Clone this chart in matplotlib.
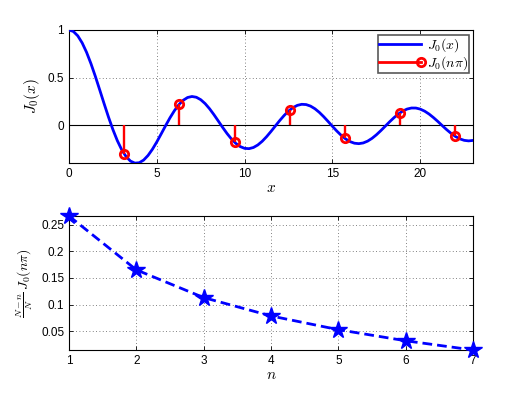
import numpy as np
import matplotlib
matplotlib.use("Agg")
import matplotlib.pyplot as plt
from matplotlib.lines import Line2D
from matplotlib.legend_handler import HandlerBase

plt.rcParams['font.family'] = ['Liberation Sans', 'DejaVu Sans']
plt.rcParams['mathtext.fontset'] = 'cm'

# J0(x), step 0.25 from 0 to 23
x_vals = np.arange(0, 23.001, 0.25)
j0_vals = [1.0, 0.9844, 0.9385, 0.8642, 0.7652, 0.6459, 0.5118, 0.3690,
           0.2239, 0.0827, -0.0484, -0.1641, -0.2601, -0.3326, -0.3801, -0.4012,
           -0.3971, -0.3691, -0.3205, -0.2551, -0.1776, -0.0931, -0.0068, 0.0760,
           0.1506, 0.2131, 0.2601, 0.2894, 0.3001, 0.2920, 0.2663, 0.2252,
           0.1717, 0.1092, 0.0419, -0.0259, -0.0903, -0.1474, -0.1939, -0.2273,
           -0.2459, -0.2490, -0.2367, -0.2101, -0.1712, -0.1227, -0.0677, -0.0097,
           0.0477, 0.1009, 0.1469, 0.1829, 0.2069, 0.2178, 0.2150, 0.1990,
           0.1711, 0.1331, 0.0875, 0.0374, -0.0142, -0.0641, -0.1092, -0.1469,
           -0.1749, -0.1917, -0.1964, -0.1889, -0.1699, -0.1406, -0.1031, -0.0598,
           -0.0134, 0.0332, 0.0770, 0.1157, 0.1466, 0.1681, 0.1789, 0.1785,
           0.1670, 0.1454, 0.1151, 0.0780, 0.0370, -0.0066, -0.0489, -0.0877,
           -0.1207, -0.1457, -0.1616, -0.1672, -0.1624]

# stems at x = n*pi
n = np.arange(1, 8)
x_stem = n * np.pi
j0_stem = [-0.3042, 0.2203, -0.1812, 0.1575, -0.1412, 0.1289, -0.1193]

# weighted values (bottom panel)
w_vals = [0.2662, 0.1652, 0.1132, 0.0788, 0.0530, 0.0322, 0.0149]


class StemHandler(HandlerBase):
    # red line with the circle at the right end, like a stem legend entry
    def create_artists(self, legend, orig_handle, xdescent, ydescent,
                       width, height, fontsize, trans):
        y = height / 2 - ydescent
        line = Line2D([-xdescent, width - xdescent], [y, y], color='red', lw=2)
        mark = Line2D([width - xdescent], [y], marker='o', ms=6, mew=2,
                      mfc='none', mec='red', ls='none')
        line.set_transform(trans)
        mark.set_transform(trans)
        return [line, mark]


fig = plt.figure(figsize=(5.25, 3.95), dpi=100)
ax1 = fig.add_axes([69/525, 1-163/395, 404/525, 133/395])
ax2 = fig.add_axes([69/525, 1-350/395, 404/525, 134/395])

ax1.plot(x_vals, j0_vals, color='blue', lw=2, zorder=3)
ax1.axhline(0, color='black', lw=0.8, zorder=2)
ax1.vlines(x_stem, 0, j0_stem, color='red', lw=1.7, zorder=4)
ax1.plot(x_stem, j0_stem, 'o', ms=6, mew=2, mfc='none', mec='red', zorder=5)
ax1.set_xlim(0, 23)
ax1.set_ylim(-0.4, 1)
ax1.set_xticks([0, 5, 10, 15, 20])
ax1.set_yticks([0, 0.5, 1])
ax1.set_yticklabels(['0', '0.5', '1'])
ax1.set_xlabel('$x$', fontsize=11, labelpad=1)
ax1.set_ylabel('$J_0(x)$', fontsize=11, labelpad=4)

h1 = Line2D([], [], color='blue', lw=2)
h2 = Line2D([], [], color='red')
leg = ax1.legend([h1, h2], ['$J_0(x)$', '$J_0(n\\pi)$'],
                 handler_map={h2: StemHandler()}, loc='upper right',
                 bbox_to_anchor=(469/525, 1-35/395),
                 bbox_transform=fig.transFigure,
                 fancybox=False, fontsize=10, handlelength=3.0,
                 handletextpad=0.4, borderpad=0.1, labelspacing=0.0,
                 borderaxespad=0, framealpha=1)
leg.get_frame().set_edgecolor('0.35')
leg.get_frame().set_linewidth(1.2)

ax2.plot(n, w_vals, '--', color='blue', lw=2, dashes=(3.5, 1.8),
         marker='*', ms=13, clip_on=False, zorder=3)
ax2.set_xlim(1, 7)
ax2.set_ylim(min(w_vals), max(w_vals))
ax2.set_yticks([0.05, 0.1, 0.15, 0.2, 0.25])
ax2.set_yticklabels(['0.05', '0.1', '0.15', '0.2', '0.25'])
ax2.set_xlabel('$n$', fontsize=11, labelpad=1)
ax2.set_ylabel('$\\frac{N-n}{N}\\,J_0(n\\pi)$', fontsize=10, labelpad=4)

for ax in (ax1, ax2):
    ax.grid(True, linestyle=(0, (1, 3)), color='0.35', lw=0.6)
    ax.tick_params(direction='in', top=True, right=True, labelsize=8.5,
                   length=3, width=0.6)
    for s in ax.spines.values():
        s.set_linewidth(0.8)

fig.savefig('out.png', dpi=100)
